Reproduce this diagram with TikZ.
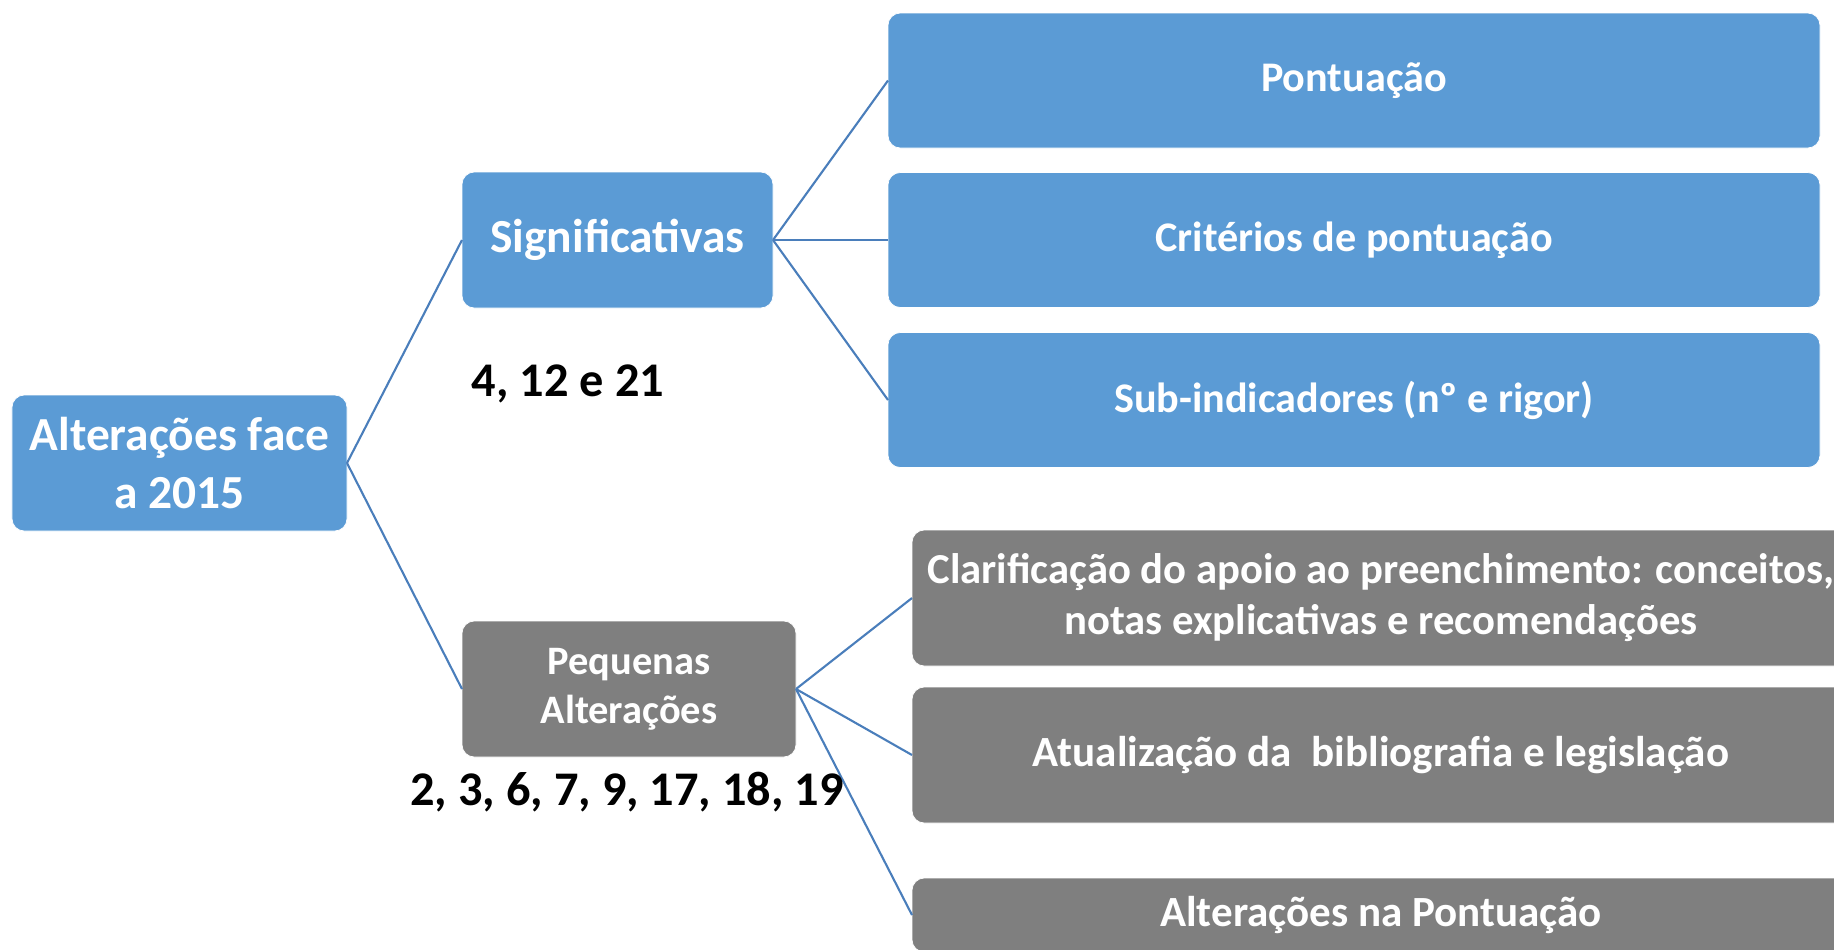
\documentclass[tikz,border=0pt]{standalone}
\usepackage{fontspec}
\setmainfont{Carlito}
\usetikzlibrary{calc}
\definecolor{boxblue}{HTML}{5B9BD5}
\definecolor{boxgray}{HTML}{7F7F7F}
\definecolor{lnblue}{HTML}{4A7EBB}
\tikzset{
  blu/.style = {
    rectangle, rounded corners=7pt, fill=boxblue, draw=white, line width=0.4pt,
    text=white, font=\bfseries, align=center,
    inner sep=0pt, outer sep=0pt
  },
  gry/.style = {blu, fill=boxgray},
  conn/.style = {lnblue, line width=1.2pt},
  lbl/.style  = {text=black, font=\fontsize{27.5}{33}\selectfont\bfseries,
                 inner sep=0pt, anchor=base}
}
\begin{document}
\begin{tikzpicture}
  \useasboundingbox (0, 0) rectangle (36.68, -18.98);
  \clip (0, 0) rectangle (36.68, -18.98);

  %% Root and first level
  \node[blu, minimum width=6.7cm, minimum height=2.72cm,
        font=\fontsize{27}{33}\selectfont\bfseries] (root) at (3.59, -9.26)
        {Alterações face\\a 2015};
  \node[blu, minimum width=6.22cm, minimum height=2.72cm,
        font=\fontsize{27}{33}\selectfont\bfseries] (sig) at (12.35, -4.80)
        {Significativas};
  \node[gry, minimum width=6.68cm, minimum height=2.72cm,
        font=\fontsize{23}{28}\selectfont\bfseries] (peq) at (12.58, -13.78)
        {Pequenas\\Alterações};

  %% Blue leaves
  \node[blu, minimum width=18.64cm, minimum height=2.70cm,
        font=\fontsize{24}{29}\selectfont\bfseries] (pont) at (27.08, -1.61)
        {Pontuação};
  \node[blu, minimum width=18.64cm, minimum height=2.70cm,
        font=\fontsize{24}{29}\selectfont\bfseries] (crit) at (27.08, -4.80)
        {Critérios de pontuação};
  \node[blu, minimum width=18.64cm, minimum height=2.70cm,
        font=\fontsize{24}{29}\selectfont\bfseries] (sub) at (27.08, -8.00)
        {Sub-indicadores (nº e rigor)};

  %% Gray leaves
  \node[gry, minimum width=18.76cm, minimum height=2.72cm,
        font=\fontsize{24.3}{29}\selectfont\bfseries] (clar) at (27.62, -11.96)
        {Clarificação do apoio ao preenchimento: conceitos,\\notas explicativas e recomendações};
  \node[gry, minimum width=18.76cm, minimum height=2.72cm,
        font=\fontsize{24.5}{29}\selectfont\bfseries] (atu) at (27.62, -15.10)
        {Atualização da\ \ bibliografia e legislação};
  \node[gry, minimum width=18.76cm, minimum height=1.48cm,
        font=\fontsize{24.5}{29}\selectfont\bfseries] (altp) at (27.62, -18.30)
        {Alterações na Pontuação};

  %% Connectors
  \draw[conn] (root.east) -- (sig.west);
  \draw[conn] (root.east) -- (peq.west);
  \draw[conn] (sig.east) -- (pont.west);
  \draw[conn] (sig.east) -- (crit.west);
  \draw[conn] (sig.east) -- (sub.west);
  \draw[conn] (peq.east) -- (clar.west);
  \draw[conn] (peq.east) -- (atu.west);
  \draw[conn] (peq.east) -- (altp.west);

  %% Item numbers
  \node[lbl] (nsig) at (11.36, -7.92) {4, 12 e 21};
  \node[lbl] (npeq) at (12.54, -16.10) {2, 3, 6, 7, 9, 17, 18, 19};
\end{tikzpicture}
\end{document}
